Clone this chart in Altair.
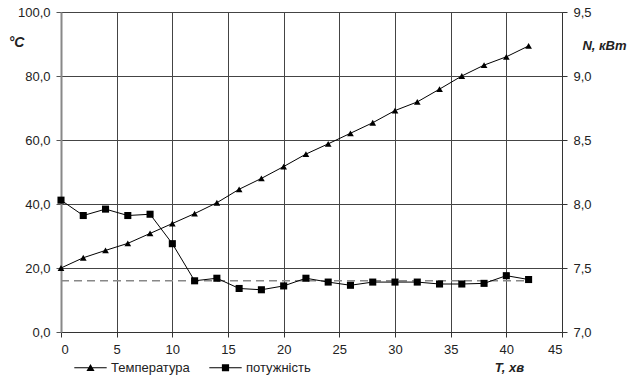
import altair as alt
import pandas as pd

time_min = list(range(0, 43, 2))
temperature = [20.0, 23.2, 25.5, 27.7, 30.8, 33.9, 37.0, 40.4, 44.6, 48.0, 51.7,
               55.6, 58.8, 62.1, 65.4, 69.2, 71.9, 75.9, 80.0, 83.4, 86.0, 89.4]
power = [8.03, 7.91, 7.96, 7.91, 7.92, 7.69, 7.40, 7.42, 7.34, 7.33, 7.36,
         7.42, 7.39, 7.365, 7.39, 7.39, 7.39, 7.375, 7.375, 7.38, 7.44, 7.41]
nominal_power = [7.40]
nominal_span = [0, 42]
series_names = ["Температура", "потужність"]

FONT = "Liberation Sans"
df = pd.DataFrame({"t": time_min, "temp": temperature, "p": power})
df_nom = pd.DataFrame({"t0": [nominal_span[0]], "t1": [nominal_span[1]], "p": nominal_power})
df_leg = pd.DataFrame({"series": series_names, "t": [time_min[0]] * 2, "temp": [temperature[0]] * 2})

x_scale = alt.Scale(domain=[0, 45], nice=False)
x_axis = alt.Axis(values=list(range(0, 50, 5)), grid=True, gridColor="#444", gridWidth=1,
                  domainColor="#333", tickColor="#333", tickSize=5, labelPadding=6,
                  labelFontSize=13, labelFont=FONT, labelColor="#222",
                  title="T, хв", titleFont=FONT, titleFontSize=13, titleFontStyle="italic",
                  titleFontWeight="bold", titleColor="#222", titleX=448, titleY=35,
                  titleAlign="center", titleBaseline="middle")
yl_scale = alt.Scale(domain=[0, 100], nice=False)
yl_axis = alt.Axis(values=list(range(0, 120, 20)), grid=True, gridColor="#444", gridWidth=1,
                   domainColor="#888", domainWidth=2, tickColor="#555", tickSize=5,
                   labelPadding=6, labelFontSize=13, labelFont=FONT, labelColor="#222",
                   labelExpr="replace(format(datum.value, '.1f'), '.', ',')",
                   title="°C", titleFont=FONT, titleFontSize=14, titleFontStyle="italic",
                   titleFontWeight="bold", titleColor="#222", titleAngle=0,
                   titleX=-45, titleY=30, titleAlign="center", titleBaseline="middle")
yr_scale = alt.Scale(domain=[7.0, 9.5], nice=False)
yr_axis = alt.Axis(orient="right", values=[7.0, 7.5, 8.0, 8.5, 9.0, 9.5], grid=False,
                   domainColor="#333", tickColor="#333", tickSize=5, labelPadding=6,
                   labelFontSize=13, labelFont=FONT, labelColor="#222",
                   labelExpr="replace(format(datum.value, '.1f'), '.', ',')",
                   title="N, кВт", titleFont=FONT, titleFontSize=13, titleFontStyle="italic",
                   titleFontWeight="bold", titleColor="#222", titleAngle=0,
                   titleX=42, titleY=33, titleAlign="center", titleBaseline="middle")

tri_path = "M-3.6,-0.11H3.6V0.11H-3.6ZM0,-0.85L0.9,0.7L-0.9,0.7Z"
sq_path = "M-3.6,-0.11H3.6V0.11H-3.6ZM-0.8,-0.8H0.8V0.8H-0.8Z"

base_t = alt.Chart(df).encode(x=alt.X("t:Q", scale=x_scale, axis=x_axis),
                              y=alt.Y("temp:Q", scale=yl_scale, axis=yl_axis))
temp_line = base_t.mark_line(color="black", strokeWidth=1)
temp_pts = base_t.mark_point(shape="triangle-up", filled=True, color="black", size=45, opacity=1)

legend_layer = alt.Chart(df_leg).mark_point(
    filled=True, color="black", opacity=0, size=81
).encode(
    x=alt.X("t:Q", scale=x_scale, axis=x_axis),
    y=alt.Y("temp:Q", scale=yl_scale, axis=yl_axis),
    shape=alt.Shape("series:N", scale=alt.Scale(domain=series_names, range=[tri_path, sq_path]),
                    legend=alt.Legend(orient="none", legendX=23, legendY=349, direction="horizontal",
                                      title=None, symbolSize=81, symbolOpacity=1,
                                      symbolFillColor="black",
                                      labelFontSize=13, labelFont=FONT, labelColor="#222",
                                      labelOffset=14, columnPadding=16)))

base_p = alt.Chart(df).encode(x=alt.X("t:Q", scale=x_scale, axis=x_axis),
                              y=alt.Y("p:Q", scale=yr_scale, axis=yr_axis))
nom_rule = alt.Chart(df_nom).mark_rule(color="#888", strokeWidth=1.5, strokeDash=[8, 5]).encode(
    x=alt.X("t0:Q", scale=x_scale, axis=x_axis), x2="t1:Q",
    y=alt.Y("p:Q", scale=yr_scale, axis=yr_axis))
pow_line = base_p.mark_line(color="black", strokeWidth=1)
pow_pts = base_p.mark_point(shape="square", filled=True, color="black", size=50, opacity=1)

left = alt.layer(temp_line, temp_pts, legend_layer)
right = alt.layer(nom_rule, pow_line, pow_pts)

chart = alt.layer(left, right).resolve_scale(y="independent", shape="independent").properties(
    width=501, height=320,
    autosize=alt.AutoSizeParams(type="none"),
    padding={"left": 61, "top": 12, "right": 66, "bottom": 52},
    background="white",
).configure_view(strokeWidth=0)

chart.save("out.html", embed_options={"renderer": "svg", "actions": False})
